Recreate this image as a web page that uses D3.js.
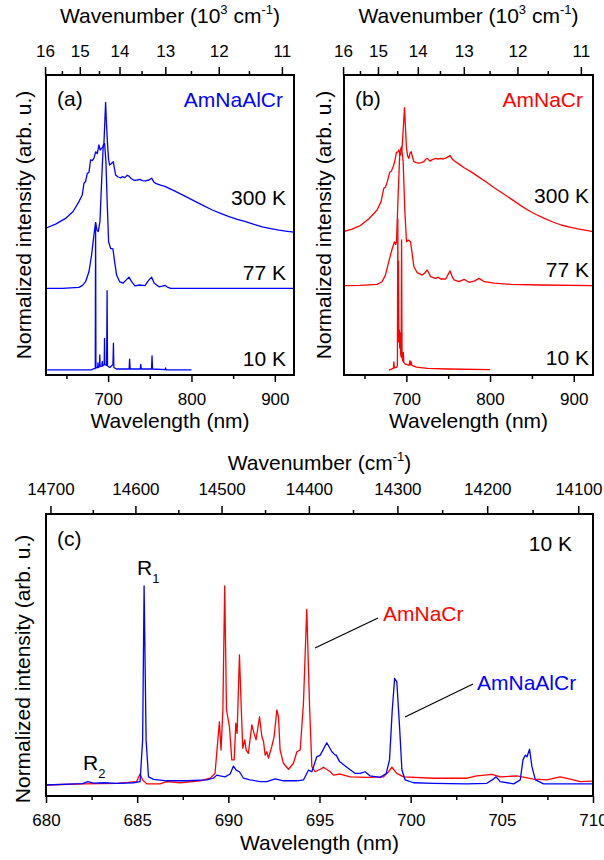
<!DOCTYPE html>
<html><head><meta charset="utf-8">
<script src="https://cdn.jsdelivr.net/npm/d3@7"></script>
<style>
body{margin:0;background:#fff}
svg{display:block}
</style>
</head><body><svg id="chart" width="604" height="860"></svg>
<script>
// ---------- tick labels ----------
const wlTicksAB = [700, 800, 900];
const wlMinorAB = [650, 750, 850];
const wnTicksAB = [16, 15, 14, 13, 12, 11];          // 10^3 cm^-1
const wnMinorAB = [15.5, 14.5, 13.5, 12.5, 11.5];
const wlTicksC = [680, 685, 690, 695, 700, 705, 710];
const wlMinorC = [682.5, 687.5, 692.5, 697.5, 702.5, 707.5];
const wnTicksC = [14700, 14600, 14500, 14400, 14300, 14200, 14100];
const wnMinorC = [14650, 14550, 14450, 14350, 14250, 14150];

// ---------- panel (a) AmNaAlCr : [wavelength nm, stacked intensity] ----------
const a300 = [[625,48.9],[637,50.3],[649,52.2],[658,54.5],[665,57.8],[669,60.0],[671,63.9],[673,64.5],[675,67.2],[677,67.5],[679,71.7],[681,71.5],[683,72.2],[685,74.4],[687,73.8],[689,76.7],[690.5,75.0],[692.2,75.6],[694,76.0],[695,77.2],[696,84],[697,90.9],[698,84],[699.4,76.7],[700.5,72],[701.8,70],[704,70.5],[706.2,71.1],[707.5,69],[709,66.7],[712,66.0],[715,65.7],[717,66.1],[720,65.8],[723,66.6],[725,66.3],[728,65.4],[731,64.9],[735,65.0],[738,65.2],[741,64.8],[745,64.7],[749,65.0],[752.2,65.6],[755,64.3],[757,63.9],[763,63.3],[769,62.8],[777,61.7],[785,60.6],[795,59.2],[805,57.8],[815,56.4],[825,55.0],[835,53.9],[845,52.8],[855,51.9],[865,51.1],[875,50.2],[885,49.4],[895,48.8],[905,48.3],[915,47.9],[923,47.6]];
const a77 = [[625,28.9],[645,28.9],[665,29.2],[669,29.8],[673,31.1],[677,34.4],[680.2,40],[683,46.7],[685,50.8],[686.6,48.3],[688.2,47.8],[690.2,51.1],[692.2,64.4],[694.2,76.7],[695.8,77.2],[697.4,71.1],[699,56.7],[700.6,44.4],[703,42.2],[705.8,42],[707.8,37.8],[710.2,33.3],[713.8,31.1],[717.8,30.6],[721.8,31.7],[725,32.6],[728.2,31.1],[732.2,29.7],[737.8,30],[744.2,29.8],[749,31.7],[752.2,32.6],[755.4,30.6],[761,29.4],[765,29.6],[768.2,29.9],[771,29.3],[775,28.9],[800,28.9],[850,28.9],[923,28.9]];
const a10 = [[627,1.7],[680,1.7],[682.5,2.1],[684.6,2.1],[685,50.8],[685.4,2.4],[687.5,2.5],[687.8,4.0],[688.1,2.5],[689.6,2.8],[690,6.7],[690.4,2.8],[692.5,3.0],[693,4.5],[693.4,3.0],[695.3,3.5],[695.7,12.2],[696.1,3.5],[698.2,3.2],[698.8,28.1],[699.3,3.0],[702,2.5],[705.8,3.5],[706.4,10.6],[706.9,2.5],[710,2.0],[725.2,2.0],[725.8,5.3],[726.4,2.0],[738.6,2.0],[739.2,3.5],[739.8,2.0],[752.1,2.0],[752.7,6.4],[753.3,2.0],[768.3,1.8],[768.9,2.4],[769.5,1.7],[800,1.7]];

// ---------- panel (b) AmNaCr ----------
const b300 = [[625,47.8],[635,48.6],[645,49.8],[655,52.0],[665,55.0],[669.8,57.8],[673,62.2],[675,62.6],[677,64.2],[680.2,67.6],[682,67.9],[684.2,69.4],[686,71.0],[688.2,74.2],[690.2,74.4],[691,75.0],[693,73.3],[695,76.1],[696.5,83],[697.8,89.1],[699,82],[700.2,75.6],[701.5,73.0],[703,72.2],[704.5,74.0],[705.8,74.4],[707.5,72.5],[709,71.1],[712,70.8],[715,70.6],[718,70.8],[721,71.1],[723,71.9],[725,72.2],[728.2,71.3],[731,71.8],[735,72.2],[738,72.0],[741,72.2],[744,72.0],[747,72.3],[750,72.8],[752.2,73.1],[755,72.0],[757,71.4],[763,70.3],[769,69.1],[777,67.8],[785,66.3],[795,64.4],[805,62.4],[815,60.6],[825,58.7],[835,56.8],[845,55.0],[855,53.5],[865,52.2],[875,51.0],[885,50.0],[895,49.3],[905,48.7],[915,48.2],[923,47.8]];
const b77 = [[625,29.8],[645,29.9],[665,30.2],[671,31.1],[675,33.3],[679,37.8],[683,42.0],[685.8,44.4],[687.2,43.5],[688.2,44.4],[690.2,60.0],[692.2,74.4],[694.2,76.1],[696.2,71.1],[698.2,54.4],[700.2,44.4],[702.2,45.0],[705,44.4],[706.6,41.1],[709,36.1],[713,34.1],[719,33.3],[722,34.0],[725,35.0],[729,32.8],[735,32.2],[738,32.6],[741,32.0],[747,32.0],[750,33.6],[752.2,34.7],[755,32.6],[757,31.7],[763,31.1],[769,31.9],[775,30.9],[781,31.3],[787,32.2],[793,31.1],[805,30.6],[825,30.2],[860,30.0],[923,29.8]];
const b10 = [[679,1.6],[684.5,2.2],[685.1,4.4],[685.6,2.4],[688.5,2.6],[689.3,3.2],[689.8,52],[690.1,18],[690.6,38],[691,11],[691.6,15],[692.1,9],[692.7,14],[693.2,7],[693.8,6],[694.3,45],[694.8,8],[695.3,5],[696,4.6],[696.4,7.5],[696.9,4.2],[699,3.6],[703.5,3.2],[704.3,4.8],[705,3.4],[705.8,4.4],[706.6,3.2],[712,2.6],[725,2.2],[750,2.0],[800,1.8]];

// ---------- panel (c) 10 K high resolution ----------
const cBlue = [[680,3.9],[681.6,4.3],[682.0,4.4],[682.3,5.1],[682.6,4.6],[683.2,4.7],[683.9,4.5],[684.8,4.7],[685.16,5.1],[685.3,19.9],[685.38,74.5],[685.49,19.9],[685.62,6.8],[685.9,5.9],[686.62,5.4],[687.72,5.4],[688.82,5.7],[689.18,6.3],[689.37,7.4],[689.55,7.1],[689.82,6.8],[690.1,7.8],[690.28,10.6],[690.43,9.2],[690.61,8.6],[690.83,6.3],[691.19,5.7],[691.74,5.1],[692.11,5.1],[692.57,6.1],[693.02,5.4],[693.76,5.4],[694.12,5.7],[694.4,9.2],[694.58,8.6],[694.85,13.9],[695.04,14.5],[695.4,18.9],[695.68,15.7],[695.86,14.5],[695.92,14.5],[696.1,12.2],[696.5,10.2],[696.96,8.0],[697.23,8.0],[697.5,8.6],[697.78,7.1],[698.33,6.6],[698.66,8.0],[698.84,12.8],[698.99,30.5],[699.12,41.7],[699.24,40.5],[699.39,24.6],[699.52,9.2],[699.7,5.7],[700.16,4.7],[701.26,4.5],[703.08,4.3],[704.18,4.5],[704.51,5.9],[704.69,6.8],[704.91,5.1],[705.65,4.3],[706.01,5.7],[706.16,12.8],[706.29,14.5],[706.38,13.9],[706.52,16.6],[706.65,10.4],[706.84,5.7],[707.29,4.3],[708.57,4.3],[709.94,4.3]];
const cRed = [[680,3.9],[682.05,4.3],[683.9,4.5],[684.97,5.1],[685.16,7.8],[685.3,5.7],[685.53,4.3],[686.26,4.3],[686.62,5.1],[687.36,4.7],[688.46,5.4],[689.0,6.3],[689.27,8.0],[689.51,26.3],[689.6,16.3],[689.7,30.5],[689.8,74.5],[689.9,30.5],[690.06,24.6],[690.19,12.8],[690.32,12.8],[690.41,25.8],[690.48,22.2],[690.61,50.0],[690.7,32.9],[690.79,16.9],[690.9,19.9],[690.98,16.3],[691.1,15.1],[691.29,25.2],[691.41,22.2],[691.52,19.9],[691.71,28.1],[691.84,21.0],[691.93,19.3],[692.02,14.5],[692.11,15.7],[692.2,13.4],[692.38,17.5],[692.51,21.0],[692.66,30.5],[692.75,28.1],[692.84,16.3],[693.02,11.6],[693.3,9.5],[693.57,11.6],[693.76,15.7],[693.94,16.3],[694.12,32.9],[694.3,66.2],[694.45,32.9],[694.58,10.4],[694.76,8.6],[695.04,9.5],[695.13,9.8],[695.22,10.2],[695.59,8.6],[695.77,7.4],[696.13,7.8],[696.68,6.8],[697.6,6.6],[698.51,6.8],[698.79,8.6],[698.97,10.2],[699.24,8.0],[699.61,6.8],[701.26,6.3],[703.08,6.3],[703.63,7.1],[704.46,7.7],[704.91,6.8],[705.83,7.1],[706.74,6.0],[707.47,5.7],[708.2,6.8],[708.75,6.0],[709.3,5.1],[709.94,5.3]];

// ---------- drawing ----------
const FONT = '"Liberation Sans", Arial, Helvetica, sans-serif';
const BLUE = '#0000ff', RED = '#ff0000';
const svg = d3.select('#chart');
svg.append('rect').attr('width', 604).attr('height', 860).attr('fill', '#fff');

function txt(g, x, y, s, size, opts = {}) {
  const t = g.append('text').attr('x', x).attr('y', y).attr('font-family', FONT)
    .attr('font-size', size).attr('fill', opts.fill || '#000')
    .attr('text-anchor', opts.anchor || 'start').text(s);
  if (opts.rotate) t.attr('transform', `rotate(-90,${x},${y})`);
  return t;
}

function drawPanel(cfg) {
  const g = svg.append('g');
  const x = d3.scaleLinear().domain(cfg.xDomain).range([cfg.left, cfg.right]);
  const y = d3.scaleLinear().domain([0, 100]).range([cfg.bottom, cfg.top]);
  const clipId = 'clip' + cfg.id;
  svg.append('clipPath').attr('id', clipId).append('rect')
    .attr('x', cfg.left).attr('y', cfg.top)
    .attr('width', cfg.right - cfg.left).attr('height', cfg.bottom - cfg.top);

  const line = d3.line().x(d => x(d[0])).y(d => y(d[1]));
  const dg = g.append('g').attr('clip-path', `url(#${clipId})`);
  cfg.series.forEach(s => {
    dg.append('path').datum(s.data).attr('d', line).attr('fill', 'none')
      .attr('stroke', s.color).attr('stroke-width', 1.3).attr('stroke-linejoin', 'round');
  });

  // bottom axis
  const ba = g.append('g').attr('transform', `translate(0,${cfg.bottom})`)
    .call(d3.axisBottom(x).tickValues(cfg.wlTicks).tickSize(7).tickPadding(11).tickSizeOuter(0).tickFormat(d3.format('d')));
  ba.select('.domain').remove();
  ba.attr('font-family', FONT).attr('font-size', 17);
  ba.selectAll('line').attr('stroke-width', 1.5);
  const bm = g.append('g').attr('transform', `translate(0,${cfg.bottom})`)
    .call(d3.axisBottom(x).tickValues(cfg.wlMinor).tickSize(4).tickFormat(''));
  bm.select('.domain').remove();
  bm.selectAll('line').attr('stroke-width', 1.5);

  // top axis (wavenumber), positioned through the wavelength scale
  const wnToX = k => x(cfg.wnToWl(k));
  g.selectAll(null).data(cfg.wnTicks).join('line')
    .attr('x1', wnToX).attr('x2', wnToX).attr('y1', cfg.top).attr('y2', cfg.top - 8)
    .attr('stroke', '#000').attr('stroke-width', 1.5);
  g.selectAll(null).data(cfg.wnMinor).join('line')
    .attr('x1', wnToX).attr('x2', wnToX).attr('y1', cfg.top).attr('y2', cfg.top - 4)
    .attr('stroke', '#000').attr('stroke-width', 1.5);
  g.selectAll(null).data(cfg.wnTicks).join('text')
    .attr('x', wnToX).attr('y', cfg.top - cfg.topLabelGap)
    .attr('text-anchor', 'middle').attr('font-family', FONT).attr('font-size', 17)
    .text(d => d);

  // frame
  g.append('rect').attr('x', cfg.left).attr('y', cfg.top)
    .attr('width', cfg.right - cfg.left).attr('height', cfg.bottom - cfg.top)
    .attr('fill', 'none').attr('stroke', '#000').attr('stroke-width', 2);

  const cx = (cfg.left + cfg.right) / 2;
  // axis titles
  txt(g, cx, cfg.bottom + cfg.bottomTitleGap, 'Wavelength (nm)', 21, { anchor: 'middle' });
  const tt = txt(g, cx, cfg.top - cfg.topTitleGap, '', 21, { anchor: 'middle' });
  cfg.topTitle.forEach(p => {
    const ts = tt.append('tspan').text(p.t);
    if (p.sup) ts.attr('font-size', 13).attr('dy', -9);
    if (p.after) ts.attr('dy', 9);
  });
  txt(g, cfg.ytX, cfg.ytY, 'Normalized intensity (arb. u.)', 21, { anchor: 'middle', rotate: true });
  return { g, x, y };
}

const topTitleAB = [{ t: 'Wavenumber (10' }, { t: '3', sup: true }, { t: ' cm', after: true }, { t: '-1', sup: true }, { t: ')', after: true }];
const topTitleC = [{ t: 'Wavenumber (cm' }, { t: '-1', sup: true }, { t: ')', after: true }];

const common = {
  xDomain: [625.5, 923], top: 75, bottom: 375,
  wlTicks: wlTicksAB, wlMinor: wlMinorAB, wnTicks: wnTicksAB, wnMinor: wnMinorAB,
  wnToWl: k => 1e4 / k, topLabelGap: 18, topTitleGap: 52, bottomTitleGap: 53,
  topTitle: topTitleAB, ytY: 225
};

// panel (a)
const pa = drawPanel(Object.assign({}, common, {
  id: 'a', left: 46, right: 294, ytX: 31,
  series: [{ data: a300, color: BLUE }, { data: a77, color: BLUE }, { data: a10, color: BLUE }]
}));
txt(pa.g, 57, 106, '(a)', 21);
txt(pa.g, 283, 107, 'AmNaAlCr', 21, { anchor: 'end', fill: BLUE });
txt(pa.g, 286, 205, '300 K', 21, { anchor: 'end' });
txt(pa.g, 286, 280, '77 K', 21, { anchor: 'end' });
txt(pa.g, 286, 366, '10 K', 21, { anchor: 'end' });

// panel (b)
const pb = drawPanel(Object.assign({}, common, {
  id: 'b', left: 344, right: 593, ytX: 331,
  series: [{ data: b300, color: RED }, { data: b77, color: RED }, { data: b10, color: RED }]
}));
txt(pb.g, 355, 106, '(b)', 21);
txt(pb.g, 583, 107, 'AmNaCr', 21, { anchor: 'end', fill: RED });
txt(pb.g, 589, 203, '300 K', 21, { anchor: 'end' });
txt(pb.g, 589, 277, '77 K', 21, { anchor: 'end' });
txt(pb.g, 589, 365, '10 K', 21, { anchor: 'end' });

// panel (c)
const pc = drawPanel({
  id: 'c', xDomain: [680, 710], left: 46, right: 593, top: 514, bottom: 796,
  wlTicks: wlTicksC, wlMinor: wlMinorC, wnTicks: wnTicksC, wnMinor: wnMinorC,
  wnToWl: k => 1e7 / k, topLabelGap: 19, topTitleGap: 44, bottomTitleGap: 54,
  topTitle: topTitleC, ytX: 30, ytY: 669,
  series: [{ data: cRed, color: RED }, { data: cBlue, color: BLUE }]
});
txt(pc.g, 57, 546, '(c)', 21);
txt(pc.g, 572, 551, '10 K', 21, { anchor: 'end' });
const r1 = txt(pc.g, 137, 575, 'R', 21);
r1.append('tspan').attr('font-size', 13).attr('dy', 8).text('1');
const r2 = txt(pc.g, 83, 770, 'R', 21);
r2.append('tspan').attr('font-size', 13).attr('dy', 8).text('2');
txt(pc.g, 383, 621, 'AmNaCr', 21, { fill: RED });
txt(pc.g, 477, 690, 'AmNaAlCr', 21, { fill: BLUE });
pc.g.append('line').attr('x1', 378).attr('y1', 618).attr('x2', 315).attr('y2', 648)
  .attr('stroke', '#000').attr('stroke-width', 1.2);
pc.g.append('line').attr('x1', 473).attr('y1', 684).attr('x2', 405).attr('y2', 717)
  .attr('stroke', '#000').attr('stroke-width', 1.2);
</script>
</body></html>
